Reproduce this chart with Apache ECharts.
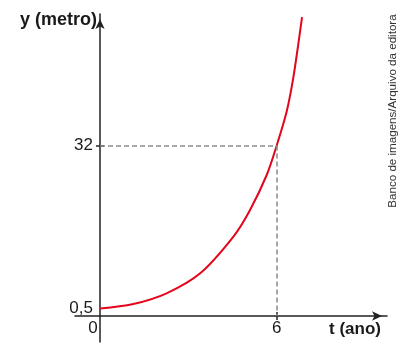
<!DOCTYPE html>
<html><head><meta charset="utf-8">
<script src="https://cdn.jsdelivr.net/npm/echarts@6/dist/echarts.min.js"></script>
<style>html,body{margin:0;padding:0;background:#fff}#c{width:413px;height:361px}</style>
</head><body><div id="c"></div>
<script>
// Curve points
const tValues = [0, 1.13, 2.26, 3.4, 4.53, 5.09, 5.66, 6, 6.34, 6.56, 6.73, 6.86];
const yValues = [0.5, 1.37, 3.44, 7.3, 14.4, 19.5, 26.3, 32, 38.6, 45.0, 51.5, 56.8];
// Tick labels
const xTickValues = [0, 6];
const xTickLabels = ['0', '6'];
const yTickValues = [0.5, 32];
const yTickLabels = ['0,5', '32'];
// Guide point (dashed lines)
const guidePoint = [6, 32];
const xAxisLevel = -0.95; // y value at which the t axis is drawn
const xAxisTitle = 't (ano)';
const yAxisTitle = 'y (metro)';
const credit = 'Banco de imagens/Arquivo da editora';

const FONT = "'Liberation Sans', Arial, sans-serif";
const AXIS_COLOR = '#222';
const X_MIN = -0.85, X_MAX = 9.745, Y_MIN = -5.97, Y_MAX = 57.41;

const chart = echarts.init(document.getElementById('c'), null, {renderer: 'canvas'});
const curveData = tValues.map((t, i) => [t, yValues[i]]);

chart.setOption({
  animation: false,
  backgroundColor: '#fff',
  grid: {left: 75, right: 26, top: 14, bottom: 19, outerBoundsMode: 'none', containLabel: false},
  xAxis: [{
    type: 'value', min: X_MIN, max: X_MAX, position: 'bottom', offset: -26,
    axisLine: {onZero: false, symbol: ['none', 'arrow'], symbolSize: [7, 10], symbolOffset: [0, -5],
      lineStyle: {color: AXIS_COLOR, width: 1.5}},
    axisTick: {show: true, customValues: [xTickValues[1]], length: 4, lineStyle: {color: AXIS_COLOR, width: 1.5}},
    axisLabel: {customValues: xTickValues, margin: 4, color: '#1a1a1a', fontFamily: FONT, fontSize: 17,
      formatter: v => { const i = xTickValues.indexOf(v); const s = xTickLabels[i]; return v === 0 ? '{o|' + s + '}' : s; },
      rich: {o: {padding: [0, 14, 0, 0], fontFamily: FONT, fontSize: 17, color: '#1a1a1a'}}},
    splitLine: {show: false}
  }, {
    type: 'value', min: X_MIN, max: X_MAX, position: 'top', offset: -302,
    axisLine: {show: false, onZero: false},
    axisTick: {show: true, customValues: [xTickValues[1]], length: 4, lineStyle: {color: AXIS_COLOR, width: 1.5}},
    axisLabel: {show: false}, splitLine: {show: false}
  }],
  yAxis: [{
    type: 'value', min: Y_MIN, max: Y_MAX, position: 'left', offset: -25,
    axisLine: {onZero: false, symbol: ['none', 'arrow'], symbolSize: [7, 10], symbolOffset: [0, -5],
      lineStyle: {color: AXIS_COLOR, width: 1.5}},
    axisTick: {show: true, customValues: [yTickValues[1]], length: 4, lineStyle: {color: AXIS_COLOR, width: 1.5}},
    axisLabel: {customValues: yTickValues, margin: 7, color: '#1a1a1a', fontFamily: FONT, fontSize: 17,
      formatter: v => yTickLabels[yTickValues.indexOf(v)]},
    splitLine: {show: false}
  }, {
    type: 'value', min: Y_MIN, max: Y_MAX, position: 'right', offset: -287,
    axisLine: {show: false, onZero: false},
    axisTick: {show: true, customValues: [yTickValues[1]], length: 4, lineStyle: {color: AXIS_COLOR, width: 1.5}},
    axisLabel: {show: false}, splitLine: {show: false}
  }],
  series: [{
    type: 'line', xAxisIndex: 0, yAxisIndex: 0, data: curveData, smooth: 0.33,
    showSymbol: false, symbol: 'none',
    clip: false, lineStyle: {color: '#e3051b', width: 2},
    markLine: {
      silent: true, symbol: ['none', 'none'], label: {show: false},
      lineStyle: {color: '#8c8c8c', width: 1.5, type: [5, 3]},
      emphasis: {disabled: true},
      data: [
        [{coord: [0, guidePoint[1]]}, {coord: [guidePoint[0], guidePoint[1]]}],
        [{coord: [guidePoint[0], guidePoint[1]]}, {coord: [guidePoint[0], xAxisLevel]}]
      ]
    }
  }],
  graphic: [
    {type: 'text', x: 97, y: 20, style: {text: yAxisTitle, align: 'right', verticalAlign: 'middle',
      font: "bold 18px 'Liberation Sans', Arial, sans-serif", fill: '#1a1a1a'}},
    {type: 'text', x: 381, y: 329, style: {text: xAxisTitle, align: 'right', verticalAlign: 'middle',
      font: "bold 17px 'Liberation Sans', Arial, sans-serif", fill: '#1a1a1a'}},
    {type: 'text', x: 393, y: 111, rotation: Math.PI / 2, style: {text: credit, align: 'center', verticalAlign: 'middle',
      font: "11.6px 'Liberation Sans', Arial, sans-serif", fill: '#333'}}
  ]
});
</script></body></html>
